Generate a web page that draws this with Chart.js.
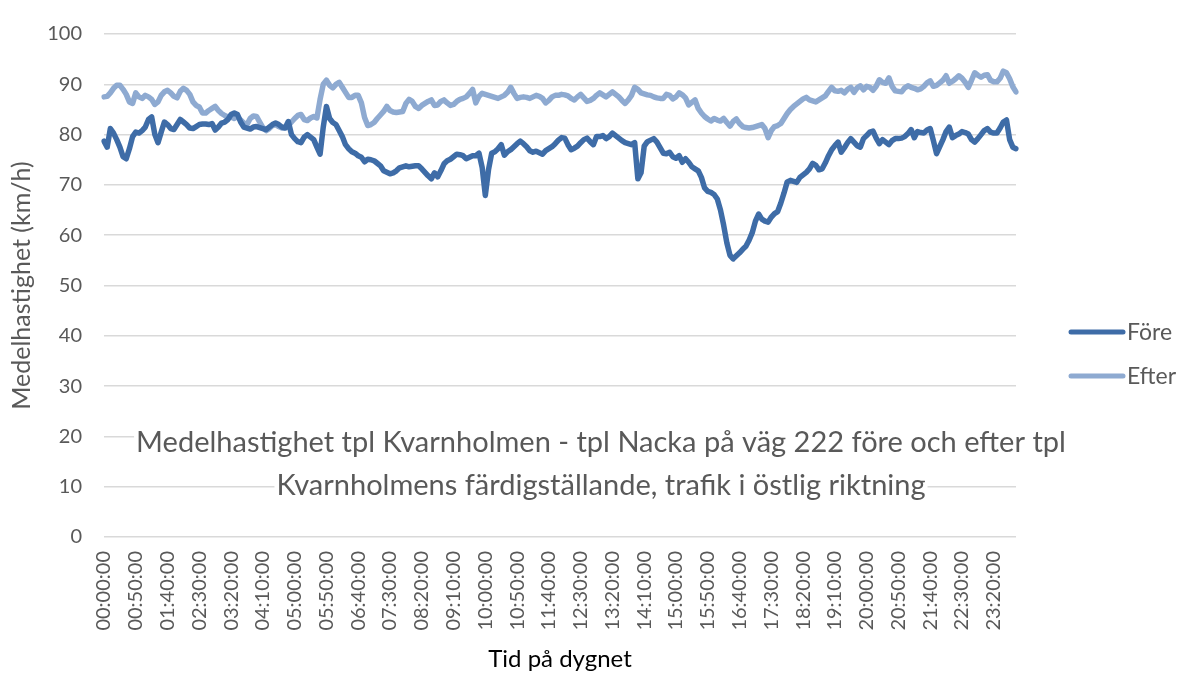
<!DOCTYPE html>
<html>
<head>
<meta charset="utf-8">
<script src="https://cdn.jsdelivr.net/npm/chart.js@4.4.1/dist/chart.umd.min.js"></script>
<style>
  html, body { margin: 0; padding: 0; background: #fff; }
</style>
</head>
<body>
<canvas id="linechart" width="1177" height="675"></canvas>
<script>
// Medelhastighet (km/h), one value every 5 minutes, one row per hour
const fore = [
  78.7, 77.5, 81.2, 80.3, 79, 77.5, 75.6, 75.2, 77.2, 79.6, 80.5, 80.3,
  80.8, 81.5, 83, 83.5, 80, 78.4, 80.5, 82.5, 82, 81.2, 81, 82,
  83, 82.5, 82, 81.3, 81.2, 81.6, 82, 82.1, 82.1, 82, 82.2, 80.9,
  81.5, 82.3, 82.5, 83, 84, 84.3, 84, 82.5, 81.5, 81.3, 81.1, 81.5,
  81.6, 81.4, 81.2, 81, 81.5, 82, 82.3, 82, 81.5, 81.3, 82.6, 80,
  79.2, 78.6, 78.4, 79.5, 80, 79.5, 79, 77.5, 76.1, 81.5, 85.6, 83.2,
  82.4, 82, 80.8, 79.6, 78, 77.2, 76.6, 76.3, 75.8, 75.5, 74.6, 75.1,
  75, 74.8, 74.3, 73.8, 72.8, 72.5, 72.2, 72.4, 72.8, 73.4, 73.6, 73.8,
  73.6, 73.7, 73.8, 73.8, 73.2, 72.5, 71.8, 71.2, 72.4, 71.6, 72.8, 74.2,
  74.8, 75.1, 75.6, 76.1, 76, 75.8, 75.2, 75.5, 75.8, 75.8, 76.3, 73.5,
  67.9, 73, 76.3, 76.6, 77.2, 78, 75.9, 76.6, 77, 77.6, 78.2, 78.7,
  78.2, 77.6, 76.8, 76.5, 76.7, 76.4, 76.1, 76.8, 77.2, 77.6, 78.2, 78.9,
  79.4, 79.3, 78, 77, 77.3, 77.7, 78.4, 79, 79.3, 78.6, 78, 79.6,
  79.6, 79.8, 79.2, 79.6, 80.3, 79.8, 79.3, 78.8, 78.4, 78.2, 78, 78.4,
  71.2, 72.4, 77.7, 78.6, 78.9, 79.2, 78.5, 77.4, 76.3, 76.2, 76.5, 75.6,
  75.3, 75.8, 74.5, 75.2, 74.5, 73.6, 73.2, 72.8, 71.5, 69.4, 68.7, 68.5,
  68.1, 67.2, 65, 62, 58.5, 56, 55.3, 55.9, 56.5, 57.2, 57.8, 59,
  60.5, 62.8, 64.2, 63.2, 62.8, 62.6, 63.6, 64.3, 64.7, 66.4, 68.4, 70.6,
  70.9, 70.7, 70.5, 71.5, 72, 72.5, 73.2, 74.3, 73.9, 73, 73.2, 74.4,
  75.8, 77, 77.8, 78.5, 76.5, 77.4, 78.4, 79.2, 78.5, 77.8, 77.5, 79.2,
  79.8, 80.5, 80.7, 79.3, 78.2, 79, 78.5, 78, 78.8, 79.2, 79.2, 79.3,
  79.6, 80.2, 81, 79.4, 80.6, 80.4, 80.3, 80.9, 81.2, 78.8, 76.2, 77.6,
  79, 80.6, 81.5, 79.4, 79.8, 80.1, 80.6, 80.4, 80.1, 79, 78.5, 79.2,
  80, 80.8, 81.2, 80.5, 80.3, 80.3, 81.3, 82.5, 82.9, 79, 77.5, 77.2
];

const efter = [
  87.5, 87.6, 88.3, 89.2, 89.8, 89.8, 89, 88, 86.5, 86.2, 88.3, 87.5,
  87.2, 87.8, 87.5, 87, 86, 86.5, 87.8, 88.5, 88.8, 88.3, 87.6, 87.3,
  88.6, 89.2, 88.8, 88, 86.5, 85.8, 85.5, 84.3, 84.3, 84.8, 85.2, 85.6,
  84.8, 84.2, 83.8, 83.5, 83.5, 83.2, 83.6, 82.9, 82.3, 82, 83.2, 83.7,
  83.6, 82.5, 81.4, 80.8, 81.2, 81.8, 82, 81.6, 81.3, 81.5, 81.8, 82.5,
  83.2, 83.8, 84, 83, 82.8, 83.3, 83.6, 83.3, 87, 90, 90.8, 89.8,
  89.3, 90, 90.4, 89.4, 88.4, 87.4, 87.4, 87.8, 87.8, 86.3, 83.4, 81.8,
  82, 82.4, 83.2, 83.9, 84.6, 85.6, 84.8, 84.5, 84.4, 84.5, 84.6, 86.2,
  87, 86.6, 85.6, 85.2, 85.8, 86.2, 86.6, 86.9, 85.8, 85.9, 86.6, 86.9,
  86.3, 85.8, 86, 86.6, 87, 87.2, 87.5, 88.2, 89, 86.3, 87.6, 88.2,
  88, 87.8, 87.6, 87.4, 87.2, 87.5, 87.8, 88.4, 89.4, 88.2, 87.2, 87.4,
  87.5, 87.4, 87.2, 87.5, 87.8, 87.6, 87.2, 86.3, 86.8, 87.5, 87.8, 87.8,
  88, 87.9, 87.7, 87.2, 86.9, 87.5, 88, 87.3, 86.6, 86.8, 87.2, 87.8,
  88.3, 87.9, 87.5, 88, 88.5, 88, 87.5, 86.8, 86.2, 86.9, 87.8, 89.4,
  89, 88.3, 88.1, 87.9, 87.8, 87.5, 87.3, 87.2, 87.2, 88, 87.8, 87.1,
  87.5, 88.3, 87.9, 87.3, 85.9, 86.4, 86.9, 85.2, 84.3, 83.6, 83.1, 82.7,
  83.2, 82.9, 82.7, 83.2, 82.4, 81.7, 82.6, 83.1, 82.2, 81.6, 81.4, 81.3,
  81.4, 81.6, 81.8, 82, 81.2, 79.4, 80.8, 81.6, 81.8, 82.2, 83.2, 84.2,
  85, 85.6, 86.1, 86.6, 87.1, 87.4, 86.9, 86.7, 86.5, 86.9, 87.3, 87.7,
  88.6, 89.4, 88.7, 88.6, 88.8, 88.3, 89, 89.4, 88.4, 89.3, 89.7, 88.9,
  89.6, 89.4, 88.8, 89.6, 90.9, 90.4, 90.2, 91.3, 89.6, 88.7, 88.6, 88.5,
  89.3, 89.7, 89.4, 89.2, 88.9, 89.1, 89.6, 90.3, 90.7, 89.6, 89.8, 90.3,
  90.8, 91.7, 90.2, 90.6, 91.1, 91.7, 91.2, 90.4, 89.4, 90.8, 92.3, 91.8,
  91.4, 91.8, 91.9, 90.8, 90.5, 90.5, 91.2, 92.6, 92.3, 91.1, 89.5, 88.5
];

// 00:00:00 ... 23:55:00
const times = [];
for (let m = 0; m < 24 * 60; m += 5) {
  const hh = String(Math.floor(m / 60)).padStart(2, '0');
  const mm = String(m % 60).padStart(2, '0');
  times.push(hh + ':' + mm + ':00');
}

const seriesNames = ['Före', 'Efter'];
const seriesColors = ['#3e6ca7', '#8eaad1'];
const yTicks = [0, 10, 20, 30, 40, 50, 60, 70, 80, 90, 100];
const titleLines = [
  'Medelhastighet tpl Kvarnholmen - tpl Nacka på väg 222 före och efter tpl',
  'Kvarnholmens färdigställande, trafik i östlig riktning'
];

Chart.defaults.font.family = 'Lato, "Open Sans", sans-serif';
Chart.defaults.color = '#595959';

/* title sits inside the plot, on a white box over the gridlines */
const plotTitle = {
  id: 'plotTitle',
  beforeDatasetsDraw(chart) {
    const ctx = chart.ctx;
    ctx.save();
    ctx.font = '29px Lato';
    ctx.textAlign = 'center';
    ctx.textBaseline = 'middle';
    titleLines.forEach((t, k) => {
      const y = 443 + k * 43;
      const w = ctx.measureText(t).width;
      ctx.fillStyle = '#fff';
      ctx.fillRect(601 - w / 2 - 2, y - 15, w + 4, 30);
      ctx.fillStyle = '#595959';
      ctx.fillText(t, 601, y);
    });
    ctx.restore();
  }
};

/* legend on the right, line samples */
const sideLegend = {
  id: 'sideLegend',
  afterDraw(chart) {
    const ctx = chart.ctx;
    ctx.save();
    ctx.font = '23px Lato';
    ctx.textBaseline = 'middle';
    chart.data.datasets.forEach((ds, k) => {
      const y = 332 + k * 44;
      ctx.strokeStyle = ds.borderColor;
      ctx.lineWidth = 5;
      ctx.lineCap = 'round';
      ctx.beginPath();
      ctx.moveTo(1071, y);
      ctx.lineTo(1123, y);
      ctx.stroke();
      ctx.fillStyle = '#595959';
      ctx.fillText(ds.label, 1127, y + 1);
    });
    ctx.restore();
  }
};

new Chart(document.getElementById('linechart').getContext('2d'), {
  type: 'line',
  data: {
    labels: times,
    datasets: [{
      label: seriesNames[0],
      data: fore,
      borderColor: seriesColors[0],
      backgroundColor: seriesColors[0],
      borderWidth: 5.5,
      borderCapStyle: 'round',
      borderJoinStyle: 'round',
      pointRadius: 0,
      tension: 0
    }, {
      label: seriesNames[1],
      data: efter,
      borderColor: seriesColors[1],
      backgroundColor: seriesColors[1],
      borderWidth: 5.5,
      borderCapStyle: 'round',
      borderJoinStyle: 'round',
      pointRadius: 0,
      tension: 0
    }]
  },
  options: {
    responsive: false,
    animation: false,
    layout: { padding: { left: 0, right: 161, top: 25, bottom: 0 } },
    plugins: {
      legend: { display: false },
      tooltip: { enabled: false }
    },
    scales: {
      x: {
        grid: { display: false },
        border: { display: false },
        ticks: {
          autoSkip: false,
          minRotation: 90,
          maxRotation: 90,
          padding: 6,
          font: { size: 20 },
          callback: function (val, idx) {
            return idx % 10 === 0 ? this.getLabelForValue(val) : '';
          }
        },
        title: {
          display: true,
          text: 'Tid på dygnet',
          color: '#000',
          font: { size: 24 },
          padding: { top: 4, bottom: 1 }
        },
        afterFit(scale) { scale.height = 138; }
      },
      y: {
        min: 0,
        max: 100,
        afterBuildTicks(scale) { scale.ticks = yTicks.map(v => ({ value: v })); },
        grid: { color: '#d9d9d9', lineWidth: 1.5, drawTicks: false },
        border: { display: false },
        ticks: { padding: 22, font: { size: 20 } },
        title: {
          display: true,
          text: 'Medelhastighet (km/h)',
          font: { size: 25 },
          padding: { top: 7, bottom: 0 }
        },
        afterFit(scale) { scale.width = 104; }
      }
    }
  },
  plugins: [plotTitle, sideLegend]
});
</script>
</body>
</html>
